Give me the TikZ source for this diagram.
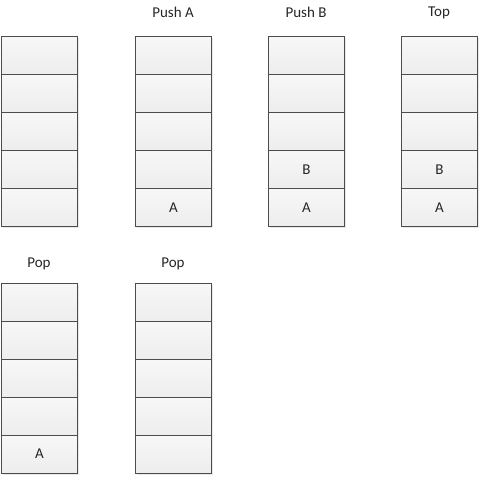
\documentclass[tikz,border=0pt]{standalone}
\usepackage{fontspec}
\setmainfont{Carlito}
\begin{document}
\begin{tikzpicture}[x=1pt,y=-1pt,
  cell/.style={draw=black!70,line width=0.8pt,top color=black!3,bottom color=black!7,minimum width=76pt,minimum height=38pt,inner sep=0pt,anchor=north west,font=\fontsize{15}{18}\selectfont,text=black!85},
  title/.style={font=\fontsize{15}{18}\selectfont,inner sep=0pt,text=black!85}]
\useasboundingbox (0,0) rectangle (481,477);
% shadows
\foreach \x/\y in {1/36,135/36,268/36,401/36,1/283,135/283}{
  \fill[black!9] (\x+2,\y+2) rectangle (\x+78,\y+191.5);
}
% column 1
\foreach \i in {0,...,4}{\node[cell] (a\i) at (1,36+38*\i) {};}
% column 2
\foreach \i in {0,...,3}{\node[cell] (b\i) at (135,36+38*\i) {};}
\node[cell] (b4) at (135,188) {A};
% column 3
\foreach \i in {0,...,2}{\node[cell] (c\i) at (268,36+38*\i) {};}
\node[cell] (c3) at (268,150) {B};
\node[cell] (c4) at (268,188) {A};
% column 4
\foreach \i in {0,...,2}{\node[cell] (d\i) at (401,36+38*\i) {};}
\node[cell] (d3) at (401,150) {B};
\node[cell] (d4) at (401,188) {A};
% column 5
\foreach \i in {0,...,3}{\node[cell] (e\i) at (1,283+37.9*\i) {};}
\node[cell] (e4) at (1,434.6) {A};
% column 6
\foreach \i in {0,...,4}{\node[cell] (f\i) at (135,283+37.9*\i) {};}
% titles
\node[title] (tb) at (173,12) {Push A};
\node[title] (tc) at (306,12) {Push B};
\node[title] (td) at (439,12.5) {Top};
\node[title] (te) at (39,264) {Pop};
\node[title] (tf) at (173,264) {Pop};
\end{tikzpicture}
\end{document}
